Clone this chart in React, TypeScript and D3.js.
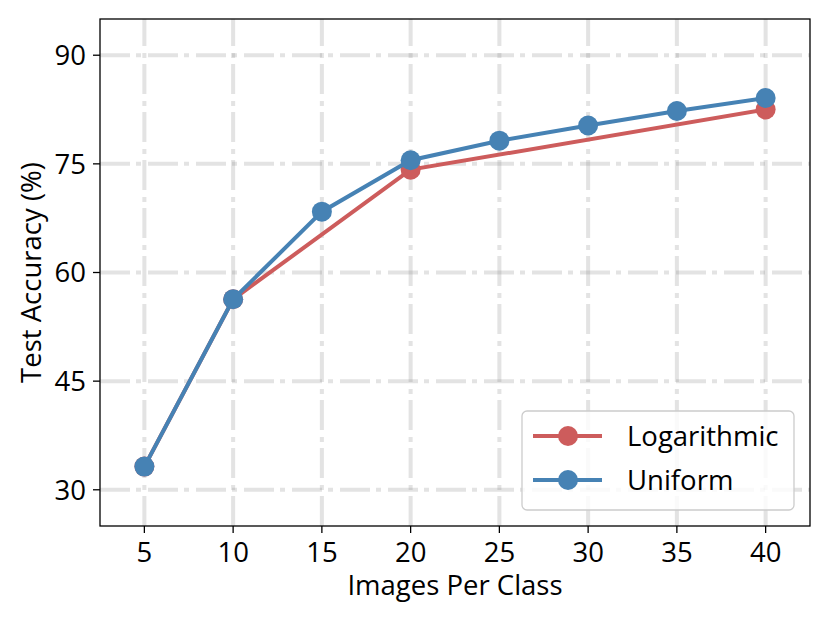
import React from 'react'
import { scaleLinear, line } from 'd3'

const imagesPerClass = [5, 10, 15, 20, 25, 30, 35, 40]
const uniformAcc = [33.2, 56.3, 68.4, 75.5, 78.2, 80.3, 82.3, 84.1]
const logClasses = [5, 10, 20, 40]
const logAcc = [33.2, 56.3, 74.2, 82.5]
const yTicks = [30, 45, 60, 75, 90]

const seriesNames = ['Logarithmic', 'Uniform']
const seriesColors = ['#cd5c5c', '#4682b4']

const FONT = '"Open Sans", sans-serif'
const FS = 27.5

export default function App() {
  const width = 830, height = 623
  const margin = { top: 19, right: 20, bottom: 97, left: 100 }
  const innerW = width - margin.left - margin.right
  const innerH = height - margin.top - margin.bottom

  const x = scaleLinear().domain([2.5, 42.5]).range([0, innerW])
  const y = scaleLinear().domain([25, 95]).range([innerH, 0])

  const path = line<[number, number]>()
    .x(d => x(d[0]))
    .y(d => y(d[1]))

  const logData: [number, number][] = logClasses.map((c, i) => [c, logAcc[i]])
  const uniData: [number, number][] = imagesPerClass.map((c, i) => [c, uniformAcc[i]])

  const gridStyle = {
    stroke: '#808080',
    strokeOpacity: 0.22,
    strokeWidth: 4,
    strokeDasharray: '30,6,5,7',
    fill: 'none',
  }

  const legX = 422, legY = 392

  return (
    <svg width={width} height={height} style={{ position: 'absolute', left: 0, top: 0 }}>
      <rect width={width} height={height} fill="white" />
      <g transform={`translate(${margin.left},${margin.top})`}>
        {/* grid */}
        {imagesPerClass.map(t => (
          <line key={'gx' + t} x1={x(t)} x2={x(t)} y1={innerH} y2={0} style={gridStyle} />
        ))}
        {yTicks.map(t => (
          <line key={'gy' + t} x1={0} x2={innerW} y1={y(t)} y2={y(t)} style={gridStyle} />
        ))}

        {/* series */}
        <path d={path(logData) || ''} fill="none" stroke={seriesColors[0]} strokeWidth={4} />
        {logData.map((d, i) => (
          <circle key={'lc' + i} cx={x(d[0])} cy={y(d[1])} r={10} fill={seriesColors[0]} />
        ))}
        <path d={path(uniData) || ''} fill="none" stroke={seriesColors[1]} strokeWidth={4} />
        {uniData.map((d, i) => (
          <circle key={'uc' + i} cx={x(d[0])} cy={y(d[1])} r={10} fill={seriesColors[1]} />
        ))}

        {/* spines */}
        <rect x={0} y={0} width={innerW} height={innerH} fill="none" stroke="black" strokeWidth={1.3} />

        {/* x axis */}
        {imagesPerClass.map(t => (
          <g key={'xt' + t} transform={`translate(${x(t)},${innerH})`}>
            <line y1={0} y2={7} stroke="black" strokeWidth={1.3} />
            <text y={36} textAnchor="middle" fontFamily={FONT} fontSize={FS} fill="black">{t}</text>
          </g>
        ))}
        <text x={innerW / 2} y={innerH + 69} textAnchor="middle" fontFamily={FONT} fontSize={FS} fill="black">
          Images Per Class
        </text>

        {/* y axis */}
        {yTicks.map(t => (
          <g key={'yt' + t} transform={`translate(0,${y(t)})`}>
            <line x1={0} x2={-7} stroke="black" strokeWidth={1.3} />
            <text x={-14} dy="0.36em" textAnchor="end" fontFamily={FONT} fontSize={FS} fill="black">{t}</text>
          </g>
        ))}
        <text
          transform={`translate(${-59},${innerH / 2}) rotate(-90)`}
          textAnchor="middle"
          fontFamily={FONT}
          fontSize={FS}
          fill="black"
        >
          Test Accuracy (%)
        </text>

        {/* legend */}
        <g transform={`translate(${legX},${legY})`}>
          <rect x={0} y={0} width={272} height={99} rx={5} fill="white" fillOpacity={0.8} stroke="#cccccc" strokeWidth={1.3} />
          {seriesNames.map((name, i) => (
            <g key={name} transform={`translate(0,${25 + i * 44})`}>
              <line x1={11} x2={80} stroke={seriesColors[i]} strokeWidth={4} />
              <circle cx={46} cy={0} r={10} fill={seriesColors[i]} />
              <text x={105} dy="0.36em" fontFamily={FONT} fontSize={FS} fill="black">{name}</text>
            </g>
          ))}
        </g>
      </g>
    </svg>
  )
}
